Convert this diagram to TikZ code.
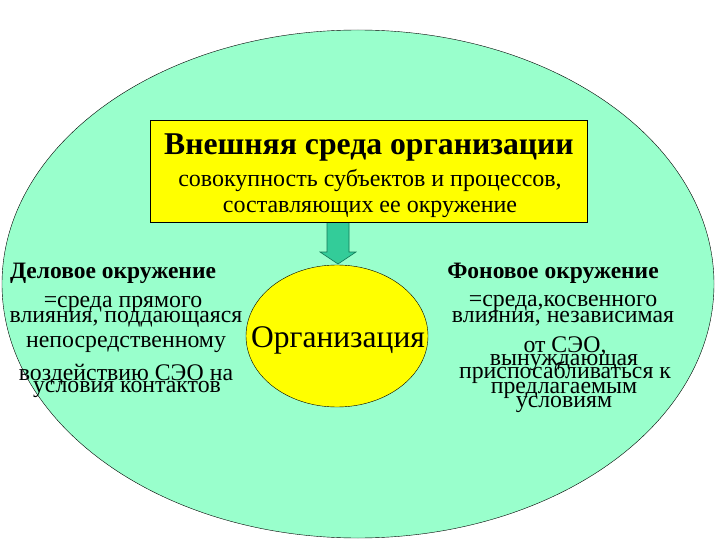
\documentclass[tikz,border=0pt]{standalone}
\usepackage{fontspec}
\setmainfont{Liberation Serif}
\usetikzlibrary{shapes.geometric}
\definecolor{aqua}{HTML}{99FFCC}
\definecolor{yel}{HTML}{FFFF00}
\definecolor{teal2}{HTML}{33CC99}
\definecolor{tealdark}{HTML}{117755}
\tikzset{
  line/.style={anchor=base, inner sep=0pt, font=\fontsize{23.8}{24}\selectfont},
  head/.style={anchor=base, inner sep=0pt, font=\fontsize{23.5}{24}\selectfont\bfseries},
}
\begin{document}
\begin{tikzpicture}[x=1pt,y=-1pt]
\useasboundingbox (0,0) rectangle (720,540);
\fill[white] (0,0) rectangle (720,540);
% outer ellipse
\node[draw=black, fill=aqua, ellipse, minimum width=712pt, minimum height=508pt, inner sep=0pt] (env) at (358,284) {};
% arrow
\draw[fill=teal2, draw=tealdark, line width=0.6pt] (327,222) -- (349,222) -- (349,252) -- (356,252) -- (338,264) -- (320,252) -- (327,252) -- cycle;
% inner ellipse
\node[draw=black, fill=yel, ellipse, minimum width=182pt, minimum height=142pt, inner sep=0pt] (org) at (337,336) {};
\node[anchor=base, inner sep=0pt, font=\fontsize{31.5}{32}\selectfont] (orgtxt) at (338,347) {Организация};
% top box
\node[draw=black, fill=yel, minimum width=437pt, minimum height=102pt, inner sep=0pt, anchor=north west] (box) at (150,120) {};
\node[anchor=base, inner sep=0pt, font=\fontsize{31.7}{32}\selectfont\bfseries] (title) at (369,155) {Внешняя среда организации};
\node[anchor=base, inner sep=0pt, font=\fontsize{24}{24}\selectfont] (sub1) at (370,187) {совокупность субъектов и процессов,};
\node[anchor=base, inner sep=0pt, font=\fontsize{24}{24}\selectfont] (sub2) at (370,212) {составляющих ее окружение};
% left text
\node[head] (lh) at (113,278) {Деловое окружение};
\node[line] (l1) at (123,307) {=среда прямого};
\node[line] (l2) at (126,322) {влияния, поддающаяся};
\node[line] (l3) at (126,347) {непосредственному};
\node[line] (l4) at (126,380) {воздействию СЭО на};
\node[line] (l5) at (127,392) {условия контактов};
% right text
\node[head] (rh) at (553,278) {Фоновое окружение};
\node[line] (r1) at (563,306) {=среда,косвенного};
\node[line] (r2) at (563,322) {влияния, независимая};
\node[line] (r3) at (565,352) {от СЭО,};
\node[line] (r4) at (564,365) {вынуждающая};
\node[line] (r5) at (565,378) {приспосабливаться к};
\node[line] (r6) at (564,393) {предлагаемым};
\node[line] (r7) at (564,407) {условиям};
\end{tikzpicture}
\end{document}
